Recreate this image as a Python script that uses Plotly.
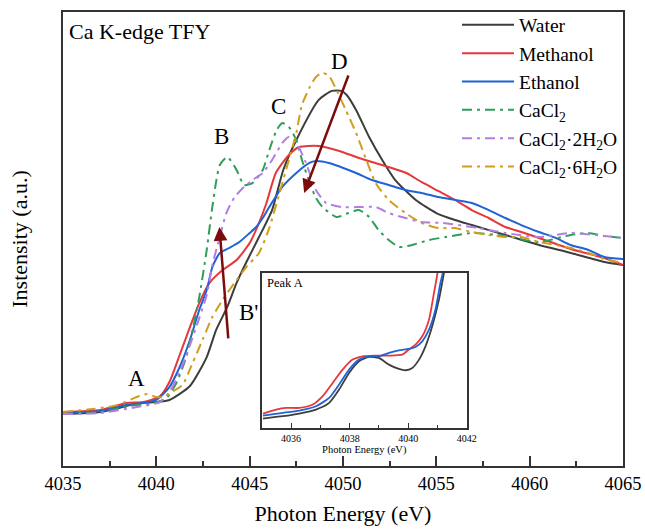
import plotly.graph_objects as go

# ---------------- main spectra (normalised intensity, a.u.) ----------------
water_e = [4035, 4037, 4038, 4039, 4040, 4040.7, 4041.8, 4042.7, 4043.2, 4043.8, 4044.3, 4044.8,
           4045.5, 4046.2, 4046.8, 4047.5, 4048.7, 4049.4, 4049.9, 4050.2, 4050.7, 4051.4, 4052.1,
           4052.8, 4053.9, 4055.0, 4056.0, 4056.9, 4058.7, 4060.5, 4062.2, 4064.0, 4065]
water_i = [-0.007, 0.007, 0.033, 0.067, 0.073, 0.087, 0.18, 0.373, 0.553, 0.707, 0.867, 1.0,
           1.173, 1.353, 1.62, 1.82, 2.087, 2.147, 2.147, 2.12, 2.02, 1.84, 1.687,
           1.553, 1.42, 1.333, 1.287, 1.253, 1.187, 1.12, 1.067, 1.007, 0.987]

meoh_e = [4035, 4037, 4038.4, 4039.3, 4040.2, 4040.7, 4041.25, 4041.8, 4042.3, 4042.85, 4043.55,
          4044.3, 4045.0, 4045.5, 4045.9, 4046.4, 4047.1, 4047.65, 4048.7, 4049.8, 4050.7, 4051.55,
          4052.45, 4053.4, 4054.2, 4055.1, 4056.0, 4056.9, 4057.8, 4058.7, 4059.55, 4060.5, 4062.2,
          4064.0, 4065]
meoh_i = [0.007, 0.02, 0.067, 0.073, 0.113, 0.207, 0.387, 0.573, 0.733, 0.867, 0.953,
          1.02, 1.133, 1.267, 1.4, 1.6, 1.72, 1.773, 1.78, 1.747, 1.707, 1.673,
          1.64, 1.6, 1.54, 1.48, 1.42, 1.353, 1.3, 1.24, 1.207, 1.167, 1.093,
          1.033, 0.987]

etoh_e = [4035, 4037, 4038.4, 4039.3, 4040.0, 4040.7, 4041.25, 4041.8, 4042.3, 4042.7, 4043.0,
          4043.4, 4043.9, 4044.45, 4045.0, 4045.35, 4045.7, 4046.05, 4046.75, 4047.5, 4048.2,
          4048.55, 4049.25, 4050.7, 4051.55, 4052.45, 4053.35, 4054.2, 4055.1, 4056.9, 4057.8,
          4058.7, 4059.55, 4060.5, 4061.4, 4062.2, 4063.15, 4064.0, 4065]
etoh_i = [0.0, 0.013, 0.053, 0.067, 0.087, 0.173, 0.307, 0.487, 0.687, 0.82, 0.973,
          1.067, 1.1, 1.14, 1.2, 1.24, 1.3, 1.373, 1.507, 1.6, 1.667,
          1.68, 1.667, 1.6, 1.553, 1.52, 1.487, 1.467, 1.44, 1.4, 1.353,
          1.3, 1.253, 1.207, 1.167, 1.12, 1.087, 1.04, 1.027]

cacl2_e = [4035, 4037, 4038.6, 4039.9, 4040.55, 4041.1, 4041.6, 4041.94, 4042.3, 4042.7, 4043.0,
           4043.4, 4043.8, 4044.3, 4044.7, 4045.15, 4045.7, 4046.05, 4046.45, 4046.75, 4047.1,
           4047.5, 4047.8, 4048.2, 4048.55, 4048.9, 4049.65, 4050.3, 4050.85, 4051.4, 4051.9,
           4052.45, 4053.0, 4053.7, 4054.6, 4055.5, 4056.9, 4058.7, 4060.5, 4062.2, 4063.15,
           4064.0, 4065]
cacl2_i = [-0.007, 0.007, 0.047, 0.067, 0.1, 0.207, 0.373, 0.553, 0.773, 1.087, 1.373,
           1.653, 1.707, 1.62, 1.52, 1.533, 1.62, 1.753, 1.887, 1.933, 1.907,
           1.82, 1.687, 1.54, 1.433, 1.373, 1.307, 1.333, 1.353, 1.307, 1.22,
           1.153, 1.107, 1.12, 1.153, 1.173, 1.2, 1.18, 1.14, 1.187, 1.2,
           1.18, 1.167]

di_e = [4035, 4037, 4038.95, 4040.2, 4040.7, 4041.25, 4041.8, 4042.3, 4042.7, 4043.0, 4043.4,
        4043.75, 4044.2, 4044.7, 4045.15, 4045.7, 4046.2, 4046.75, 4047.1, 4047.5, 4048.0,
        4048.55, 4049.1, 4049.95, 4051.0, 4051.75, 4052.45, 4053.35, 4054.2, 4055.3, 4056.9,
        4058.7, 4060.5, 4062.2, 4064.0, 4065]
di_i = [-0.007, 0.0, 0.04, 0.073, 0.14, 0.273, 0.453, 0.633, 0.787, 0.987, 1.173,
        1.333, 1.44, 1.507, 1.553, 1.6, 1.687, 1.8, 1.84, 1.8, 1.673,
        1.487, 1.4, 1.373, 1.373, 1.373, 1.333, 1.3, 1.273, 1.267, 1.24,
        1.2, 1.173, 1.2, 1.18, 1.167]

hexa_e = [4035, 4036.6, 4037.9, 4038.95, 4039.5, 4040.0, 4040.45, 4040.82, 4041.4, 4041.94,
          4042.47, 4043.0, 4043.54, 4044.3, 4044.82, 4045.5, 4046.05, 4046.6, 4047.1, 4047.5,
          4047.8, 4048.2, 4048.55, 4048.9, 4049.25, 4049.65, 4050.15, 4050.7, 4051.25, 4051.75,
          4052.45, 4053.35, 4054.2, 4055.1, 4056.0, 4056.9, 4057.8, 4058.7, 4059.55, 4060.5,
          4061.4, 4062.2, 4063.15, 4064.0, 4065]
hexa_i = [0.007, 0.027, 0.053, 0.107, 0.127, 0.107, 0.107, 0.14, 0.187, 0.333,
          0.487, 0.64, 0.753, 0.887, 0.973, 1.067, 1.233, 1.467, 1.687, 1.867,
          2.053, 2.167, 2.24, 2.267, 2.247, 2.153, 2.02, 1.867, 1.687, 1.533,
          1.42, 1.333, 1.267, 1.233, 1.233, 1.207, 1.187, 1.173, 1.173, 1.14,
          1.12, 1.1, 1.067, 1.027, 1.0]

# ---------------- inset: Peak A (arb. units) ----------------
ins_water_e = [4035.04, 4035.72, 4036.28, 4036.85, 4037.3, 4037.64, 4037.98, 4038.32, 4038.66,
               4039.0, 4039.34, 4039.68, 4039.91, 4040.14, 4040.37, 4040.59, 4040.82, 4041.05,
               4041.22, 4041.3]
ins_water_i = [0.03, 0.10, 0.18, 0.30, 0.50, 0.90, 1.40, 1.75, 1.88,
               1.85, 1.65, 1.52, 1.48, 1.55, 1.80, 2.20, 2.80, 3.60,
               4.40, 4.80]
ins_meoh_e = [4035.04, 4035.49, 4035.83, 4036.28, 4036.74, 4037.08, 4037.42, 4037.76, 4038.1,
              4038.44, 4038.89, 4039.34, 4039.8, 4040.02, 4040.25, 4040.48, 4040.71, 4040.88,
              4041.0, 4041.06]
ins_meoh_i = [0.18, 0.30, 0.35, 0.35, 0.45, 0.70, 1.10, 1.50, 1.80,
              1.90, 1.92, 1.92, 1.95, 2.10, 2.25, 2.50, 3.00, 3.80,
              4.40, 4.80]
ins_etoh_e = [4035.04, 4035.72, 4036.28, 4036.85, 4037.3, 4037.64, 4037.98, 4038.32, 4038.66,
              4039.0, 4039.34, 4039.68, 4040.02, 4040.25, 4040.48, 4040.71, 4040.93, 4041.1,
              4041.18, 4041.24]
ins_etoh_i = [0.12, 0.20, 0.27, 0.40, 0.65, 1.05, 1.50, 1.80, 1.90,
              1.90, 2.00, 2.08, 2.12, 2.18, 2.35, 2.70, 3.30, 4.10,
              4.40, 4.80]

names = ["Water", "Methanol", "Ethanol", "CaCl<sub>2</sub>",
         "CaCl<sub>2</sub>·2H<sub>2</sub>O", "CaCl<sub>2</sub>·6H<sub>2</sub>O"]
colors = ["#3d3d3d", "#e5383b", "#1f63d6", "#2e9e5b", "#b37de3", "#d09e1c"]
dashes = ["solid", "solid", "solid", "10px,5px,3px,5px", "10px,5px,3px,5px", "10px,5px,3px,5px"]

SERIF = "Liberation Serif"

fig = go.Figure()
series = [(water_e, water_i), (meoh_e, meoh_i), (etoh_e, etoh_i),
          (cacl2_e, cacl2_i), (di_e, di_i), (hexa_e, hexa_i)]
for (e, i), n, c, d in zip(series, names, colors, dashes):
    fig.add_trace(go.Scatter(x=e, y=i, name=n, mode="lines",
                             line=dict(color=c, width=2, dash=d, shape="spline", smoothing=0.6)))

for (e, i), c in zip([(ins_water_e, ins_water_i), (ins_meoh_e, ins_meoh_i), (ins_etoh_e, ins_etoh_i)],
                     colors[:3]):
    fig.add_trace(go.Scatter(x=e, y=i, mode="lines", showlegend=False, xaxis="x2", yaxis="y2",
                             line=dict(color=c, width=1.8, shape="spline", smoothing=0.6)))

axis_line = dict(showline=True, linecolor="#333333", linewidth=1.5, mirror=True,
                 showgrid=False, zeroline=False)

fig.update_layout(
    width=645, height=529,
    margin=dict(l=63, r=22, t=12, b=63, autoexpand=False),
    paper_bgcolor="white", plot_bgcolor="white",
    font=dict(family=SERIF, color="black"),
    xaxis=dict(range=[4035, 4065], dtick=5, tick0=4035, ticks="inside", ticklen=10,
               tickwidth=1.5, tickcolor="#333333",
               minor=dict(dtick=2.5, ticks="inside", ticklen=5, tickwidth=1.5, tickcolor="#333333"),
               tickfont=dict(size=18.5, family=SERIF),
               title=dict(text="Photon Energy (eV)", font=dict(size=22, family=SERIF), standoff=13),
               **axis_line),
    yaxis=dict(range=[-0.353, 2.673], showticklabels=False, ticks="",
               title=dict(text="Instensity (a.u.)", font=dict(size=22, family=SERIF), standoff=28),
               **axis_line),
    xaxis2=dict(domain=[0.355, 0.721], anchor="y2", range=[4035, 4042], dtick=2, tick0=4036,
                ticks="inside", ticklen=5, tickwidth=1, tickcolor="#333333",
                minor=dict(dtick=1, ticks="inside", ticklen=3, tickwidth=1, tickcolor="#333333"),
                tickfont=dict(size=10, family=SERIF),
                title=dict(text="Photon Energy (eV)", font=dict(size=10.5, family=SERIF), standoff=1),
                **axis_line),
    yaxis2=dict(domain=[0.084, 0.425], anchor="x2", range=[-0.25, 4.4],
                showticklabels=False, ticks="", **axis_line),
    legend=dict(x=1, xanchor="right", y=1.014, yanchor="top", bgcolor="rgba(0,0,0,0)",
                font=dict(size=19.5, family=SERIF), itemwidth=52, tracegroupgap=0),
    showlegend=True,
)

# texts
fig.add_annotation(text="Ca K-edge TFY", xref="paper", yref="paper", x=0.007, y=0.956,
                   xanchor="left", yanchor="middle", showarrow=False,
                   font=dict(size=22, family=SERIF))
fig.add_annotation(text="Peak A", xref="x2 domain", yref="y2 domain", x=0.015, y=0.935,
                   xanchor="left", yanchor="middle", showarrow=False,
                   font=dict(size=12.5, family=SERIF))

labels = [("A", 4038.95, 0.233), ("B", 4043.49, 1.84), ("C", 4046.53, 2.04),
          ("D", 4049.79, 2.34), ("B'", 4044.95, 0.673)]
for t, xx, yy in labels:
    fig.add_annotation(text=t, x=xx, y=yy, showarrow=False, font=dict(size=23, family=SERIF))

# arrows (head at x,y ; tail at ax,ay)
arrows = [(4043.38, 1.24, 4043.86, 0.487), (4047.92, 1.467, 4050.32, 2.26)]
for hx, hy, tx, ty in arrows:
    fig.add_annotation(x=hx, y=hy, ax=tx, ay=ty, xref="x", yref="y", axref="x", ayref="y",
                       text="", showarrow=True, arrowhead=2, arrowsize=1.1, arrowwidth=2.5,
                       arrowcolor="#7a0c0c", standoff=0)

fig.write_html("out.html")
